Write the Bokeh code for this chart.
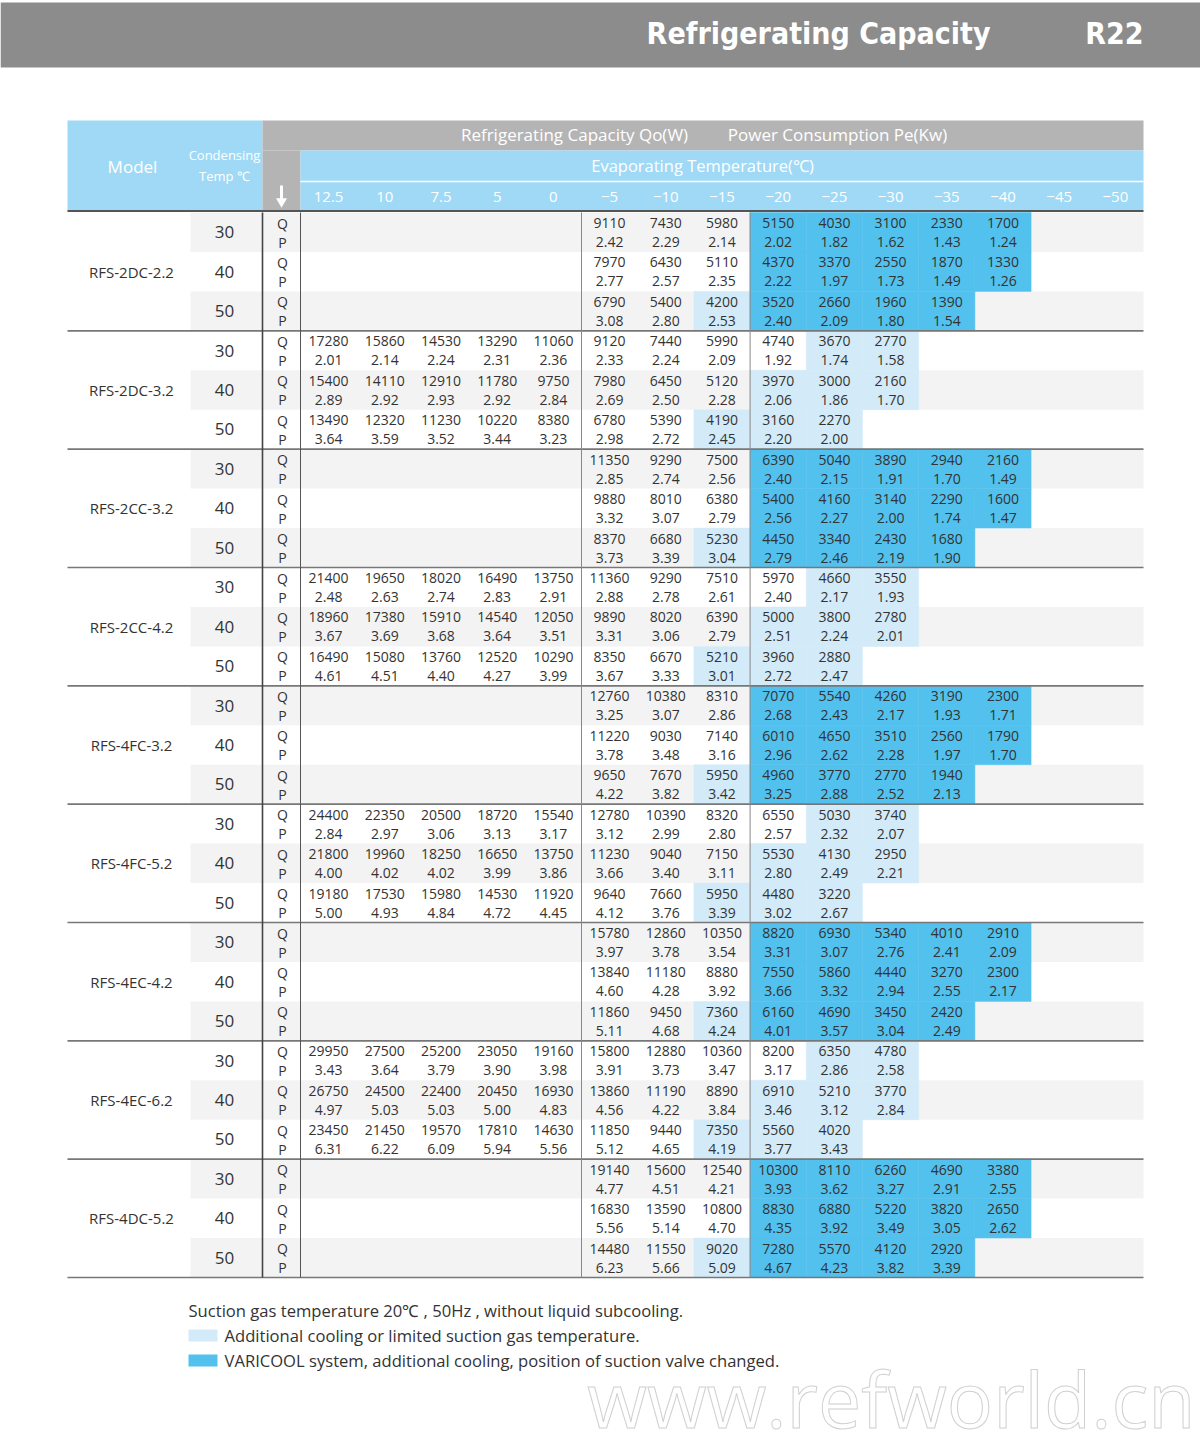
import numpy as np
from bokeh.plotting import figure
from bokeh.models import ColumnDataSource, Range1d
from bokeh.core.properties import value
from bokeh.embed import file_html
from bokeh.resources import INLINE

N = None
evap_temps = ["12.5", "10", "7.5", "5", "0", "\u22125", "\u221210", "\u221215", "\u221220",
              "\u221225", "\u221230", "\u221235", "\u221240", "\u221245", "\u221250"]
models = ["RFS-2DC-2.2", "RFS-2DC-3.2", "RFS-2CC-3.2", "RFS-2CC-4.2", "RFS-4FC-3.2",
          "RFS-4FC-5.2", "RFS-4EC-4.2", "RFS-4EC-6.2", "RFS-4DC-5.2"]
cond_temps = ["30", "40", "50"]

# Q (W) and P (kW) per model, rows = condensing 30/40/50, cols = evaporating temps
Q_2DC_22 = [[N, N, N, N, N, 9110, 7430, 5980, 5150, 4030, 3100, 2330, 1700, N, N],
            [N, N, N, N, N, 7970, 6430, 5110, 4370, 3370, 2550, 1870, 1330, N, N],
            [N, N, N, N, N, 6790, 5400, 4200, 3520, 2660, 1960, 1390, N, N, N]]
P_2DC_22 = [[N, N, N, N, N, 2.42, 2.29, 2.14, 2.02, 1.82, 1.62, 1.43, 1.24, N, N],
            [N, N, N, N, N, 2.77, 2.57, 2.35, 2.22, 1.97, 1.73, 1.49, 1.26, N, N],
            [N, N, N, N, N, 3.08, 2.80, 2.53, 2.40, 2.09, 1.80, 1.54, N, N, N]]
Q_2DC_32 = [[17280, 15860, 14530, 13290, 11060, 9120, 7440, 5990, 4740, 3670, 2770, N, N, N, N],
            [15400, 14110, 12910, 11780, 9750, 7980, 6450, 5120, 3970, 3000, 2160, N, N, N, N],
            [13490, 12320, 11230, 10220, 8380, 6780, 5390, 4190, 3160, 2270, N, N, N, N, N]]
P_2DC_32 = [[2.01, 2.14, 2.24, 2.31, 2.36, 2.33, 2.24, 2.09, 1.92, 1.74, 1.58, N, N, N, N],
            [2.89, 2.92, 2.93, 2.92, 2.84, 2.69, 2.50, 2.28, 2.06, 1.86, 1.70, N, N, N, N],
            [3.64, 3.59, 3.52, 3.44, 3.23, 2.98, 2.72, 2.45, 2.20, 2.00, N, N, N, N, N]]
Q_2CC_32 = [[N, N, N, N, N, 11350, 9290, 7500, 6390, 5040, 3890, 2940, 2160, N, N],
            [N, N, N, N, N, 9880, 8010, 6380, 5400, 4160, 3140, 2290, 1600, N, N],
            [N, N, N, N, N, 8370, 6680, 5230, 4450, 3340, 2430, 1680, N, N, N]]
P_2CC_32 = [[N, N, N, N, N, 2.85, 2.74, 2.56, 2.40, 2.15, 1.91, 1.70, 1.49, N, N],
            [N, N, N, N, N, 3.32, 3.07, 2.79, 2.56, 2.27, 2.00, 1.74, 1.47, N, N],
            [N, N, N, N, N, 3.73, 3.39, 3.04, 2.79, 2.46, 2.19, 1.90, N, N, N]]
Q_2CC_42 = [[21400, 19650, 18020, 16490, 13750, 11360, 9290, 7510, 5970, 4660, 3550, N, N, N, N],
            [18960, 17380, 15910, 14540, 12050, 9890, 8020, 6390, 5000, 3800, 2780, N, N, N, N],
            [16490, 15080, 13760, 12520, 10290, 8350, 6670, 5210, 3960, 2880, N, N, N, N, N]]
P_2CC_42 = [[2.48, 2.63, 2.74, 2.83, 2.91, 2.88, 2.78, 2.61, 2.40, 2.17, 1.93, N, N, N, N],
            [3.67, 3.69, 3.68, 3.64, 3.51, 3.31, 3.06, 2.79, 2.51, 2.24, 2.01, N, N, N, N],
            [4.61, 4.51, 4.40, 4.27, 3.99, 3.67, 3.33, 3.01, 2.72, 2.47, N, N, N, N, N]]
Q_4FC_32 = [[N, N, N, N, N, 12760, 10380, 8310, 7070, 5540, 4260, 3190, 2300, N, N],
            [N, N, N, N, N, 11220, 9030, 7140, 6010, 4650, 3510, 2560, 1790, N, N],
            [N, N, N, N, N, 9650, 7670, 5950, 4960, 3770, 2770, 1940, N, N, N]]
P_4FC_32 = [[N, N, N, N, N, 3.25, 3.07, 2.86, 2.68, 2.43, 2.17, 1.93, 1.71, N, N],
            [N, N, N, N, N, 3.78, 3.48, 3.16, 2.96, 2.62, 2.28, 1.97, 1.70, N, N],
            [N, N, N, N, N, 4.22, 3.82, 3.42, 3.25, 2.88, 2.52, 2.13, N, N, N]]
Q_4FC_52 = [[24400, 22350, 20500, 18720, 15540, 12780, 10390, 8320, 6550, 5030, 3740, N, N, N, N],
            [21800, 19960, 18250, 16650, 13750, 11230, 9040, 7150, 5530, 4130, 2950, N, N, N, N],
            [19180, 17530, 15980, 14530, 11920, 9640, 7660, 5950, 4480, 3220, N, N, N, N, N]]
P_4FC_52 = [[2.84, 2.97, 3.06, 3.13, 3.17, 3.12, 2.99, 2.80, 2.57, 2.32, 2.07, N, N, N, N],
            [4.00, 4.02, 4.02, 3.99, 3.86, 3.66, 3.40, 3.11, 2.80, 2.49, 2.21, N, N, N, N],
            [5.00, 4.93, 4.84, 4.72, 4.45, 4.12, 3.76, 3.39, 3.02, 2.67, N, N, N, N, N]]
Q_4EC_42 = [[N, N, N, N, N, 15780, 12860, 10350, 8820, 6930, 5340, 4010, 2910, N, N],
            [N, N, N, N, N, 13840, 11180, 8880, 7550, 5860, 4440, 3270, 2300, N, N],
            [N, N, N, N, N, 11860, 9450, 7360, 6160, 4690, 3450, 2420, N, N, N]]
P_4EC_42 = [[N, N, N, N, N, 3.97, 3.78, 3.54, 3.31, 3.07, 2.76, 2.41, 2.09, N, N],
            [N, N, N, N, N, 4.60, 4.28, 3.92, 3.66, 3.32, 2.94, 2.55, 2.17, N, N],
            [N, N, N, N, N, 5.11, 4.68, 4.24, 4.01, 3.57, 3.04, 2.49, N, N, N]]
Q_4EC_62 = [[29950, 27500, 25200, 23050, 19160, 15800, 12880, 10360, 8200, 6350, 4780, N, N, N, N],
            [26750, 24500, 22400, 20450, 16930, 13860, 11190, 8890, 6910, 5210, 3770, N, N, N, N],
            [23450, 21450, 19570, 17810, 14630, 11850, 9440, 7350, 5560, 4020, N, N, N, N, N]]
P_4EC_62 = [[3.43, 3.64, 3.79, 3.90, 3.98, 3.91, 3.73, 3.47, 3.17, 2.86, 2.58, N, N, N, N],
            [4.97, 5.03, 5.03, 5.00, 4.83, 4.56, 4.22, 3.84, 3.46, 3.12, 2.84, N, N, N, N],
            [6.31, 6.22, 6.09, 5.94, 5.56, 5.12, 4.65, 4.19, 3.77, 3.43, N, N, N, N, N]]
Q_4DC_52 = [[N, N, N, N, N, 19140, 15600, 12540, 10300, 8110, 6260, 4690, 3380, N, N],
            [N, N, N, N, N, 16830, 13590, 10800, 8830, 6880, 5220, 3820, 2650, N, N],
            [N, N, N, N, N, 14480, 11550, 9020, 7280, 5570, 4120, 2920, N, N, N]]
P_4DC_52 = [[N, N, N, N, N, 4.77, 4.51, 4.21, 3.93, 3.62, 3.27, 2.91, 2.55, N, N],
            [N, N, N, N, N, 5.56, 5.14, 4.70, 4.35, 3.92, 3.49, 3.05, 2.62, N, N],
            [N, N, N, N, N, 6.23, 5.66, 5.09, 4.67, 4.23, 3.82, 3.39, N, N, N]]

q_tables = [Q_2DC_22, Q_2DC_32, Q_2CC_32, Q_2CC_42, Q_4FC_32, Q_4FC_52, Q_4EC_42, Q_4EC_62, Q_4DC_52]
p_tables = [P_2DC_22, P_2DC_32, P_2CC_32, P_2CC_42, P_4FC_32, P_4FC_52, P_4EC_42, P_4EC_62, P_4DC_52]

# operating notes: 0 none, 1 additional cooling / limited suction gas temp, 2 VARICOOL
note_varicool = [[0, 0, 0, 0, 0, 0, 0, 0, 2, 2, 2, 2, 2, 0, 0],
                 [0, 0, 0, 0, 0, 0, 0, 0, 2, 2, 2, 2, 2, 0, 0],
                 [0, 0, 0, 0, 0, 0, 0, 1, 2, 2, 2, 2, 0, 0, 0]]
note_limited = [[0, 0, 0, 0, 0, 0, 0, 0, 0, 1, 1, 0, 0, 0, 0],
                [0, 0, 0, 0, 0, 0, 0, 0, 1, 1, 1, 0, 0, 0, 0],
                [0, 0, 0, 0, 0, 0, 0, 1, 1, 1, 0, 0, 0, 0, 0]]
model_notes = [note_varicool, note_limited, note_varicool, note_limited, note_varicool,
               note_limited, note_varicool, note_limited, note_varicool]

legend_lines = ["Suction gas temperature 20\u2103 , 50Hz , without liquid subcooling.",
                "Additional cooling or limited suction gas temperature.",
                "VARICOOL system, additional cooling, position of suction valve changed."]

# ---------------- layout ----------------
FONT = value("Open Sans")
TITLE_FONT = value("Liberation Sans Narrow, DejaVu Sans Condensed")
X_MODEL0, X_COND0, X_QP0, X_DATA0, X_END = 67, 190, 262, 300, 1143
Y_HDR0, Y_HDR1, Y_SPLIT, Y_HDR2 = 120, 150, 181, 210
Y_BODY0, Y_BODY1 = 212, 1277
NC = len(evap_temps)
CW = (X_END - X_DATA0) / NC
NPAIR = len(models) * len(cond_temps)
PH = (Y_BODY1 - Y_BODY0) / NPAIR

C_HDRBAR = "#8c8c8c"
C_GRAYHDR = "#b4b4b4"
C_BLUEHDR = "#a0d9f5"
C_STRIPE = "#f3f3f3"
C_LIGHT = "#d3ebf8"
C_DARK = "#52c1ee"
C_TXT = "#333333"

p = figure(width=1200, height=1436, x_range=Range1d(0, 1200), y_range=Range1d(1436, 0),
           output_backend="svg", toolbar_location=None, min_border=0)
p.axis.visible = False
p.grid.visible = False
p.outline_line_color = None
p.background_fill_color = "white"
p.border_fill_color = "white"

# top title bar
p.quad(left=[0], right=[1200], top=[2], bottom=[67], fill_color=C_HDRBAR, line_color=None)
p.text(x=[990], y=[33], text=["Refrigerating Capacity"], text_align="right", text_baseline="middle",
       text_font=TITLE_FONT, text_font_style="bold", text_font_size="30px", text_color="white")
p.text(x=[1143], y=[33], text=["R22"], text_align="right", text_baseline="middle",
       text_font=TITLE_FONT, text_font_style="bold", text_font_size="30px", text_color="white")

# table header
p.quad(left=[X_MODEL0], right=[X_QP0], top=[Y_HDR0], bottom=[Y_HDR2], fill_color=C_BLUEHDR, line_color=None)
p.quad(left=[X_QP0], right=[X_END], top=[Y_HDR0], bottom=[Y_HDR1], fill_color=C_GRAYHDR, line_color=None)
p.quad(left=[X_QP0], right=[X_DATA0], top=[Y_HDR1], bottom=[Y_HDR2], fill_color=C_GRAYHDR, line_color=None)
p.quad(left=[X_DATA0], right=[X_END], top=[Y_HDR1], bottom=[Y_HDR2], fill_color=C_BLUEHDR, line_color=None)
p.segment(x0=[X_DATA0], x1=[X_END], y0=[Y_SPLIT], y1=[Y_SPLIT], line_color="white", line_width=1.5)

p.text(x=[132], y=[166], text=["Model"], text_align="center", text_baseline="middle",
       text_font=FONT, text_font_size="17px", text_color="white")
p.text(x=[224, 224], y=[154, 175], text=["Condensing", "Temp \u2103"], text_align="center",
       text_baseline="middle", text_font=FONT, text_font_size="13px", text_color="white")
p.text(x=[574, 837], y=[134, 134], text=["Refrigerating Capacity Qo(W)", "Power Consumption Pe(Kw)"],
       text_align="center", text_baseline="middle", text_font=FONT, text_font_size="17px",
       text_color="white")
p.text(x=[702], y=[165], text=["Evaporating Temperature(\u2103)"], text_align="center",
       text_baseline="middle", text_font=FONT, text_font_size="16.5px", text_color="white")
tick_x = [X_DATA0 + (i + 0.5) * CW for i in range(NC)]
p.text(x=tick_x, y=[196] * NC, text=evap_temps, text_align="center", text_baseline="middle",
       text_font=FONT, text_font_size="15px", text_color="white")
# arrow
p.segment(x0=[281], x1=[281], y0=[185], y1=[199], line_color="white", line_width=3)
p.scatter(x=[281], y=[201], marker="inverted_triangle", size=11, fill_color="white", line_color=None)

# body stripes & cell shading
sl, sr, st, sb = [], [], [], []
cl, cr, ct, cb, cc = [], [], [], [], []
for m in range(len(models)):
    for k in range(len(cond_temps)):
        g = m * len(cond_temps) + k
        top = Y_BODY0 + g * PH
        if g % 2 == 0:
            sl.append(X_COND0); sr.append(X_END); st.append(top); sb.append(top + PH)
        for c in range(NC):
            code = model_notes[m][k][c]
            if code:
                cl.append(X_DATA0 + c * CW); cr.append(X_DATA0 + (c + 1) * CW)
                ct.append(top); cb.append(top + PH)
                cc.append(C_LIGHT if code == 1 else C_DARK)
p.quad(left=sl, right=sr, top=st, bottom=sb, fill_color=C_STRIPE, line_color=None)
p.quad(source=ColumnDataSource(dict(l=cl, r=cr, t=ct, b=cb, c=cc)), left="l", right="r",
       top="t", bottom="b", fill_color="c", line_color="c", line_width=0.5)

# body texts
nx, ny, nt = [], [], []
qx, qy, qt = [], [], []
for m in range(len(models)):
    for k in range(len(cond_temps)):
        g = m * len(cond_temps) + k
        top = Y_BODY0 + g * PH
        yq, yp = top + 10.5, top + 29.5
        qx += [282, 282]; qy += [yq, yp]; qt += ["Q", "P"]
        for c in range(NC):
            xv = X_DATA0 + (c + 0.5) * CW
            qv = q_tables[m][k][c]
            pv = p_tables[m][k][c]
            if qv is not None:
                nx.append(xv); ny.append(yq); nt.append(str(qv))
            if pv is not None:
                nx.append(xv); ny.append(yp); nt.append(f"{pv:.2f}")
p.text(x=nx, y=ny, text=nt, text_align="center", text_baseline="middle", text_font=FONT,
       text_font_size="14px", text_color=C_TXT)
p.text(x=qx, y=qy, text=qt, text_align="center", text_baseline="middle", text_font=FONT,
       text_font_size="14px", text_color=C_TXT)

cond_x, cond_y, cond_t = [], [], []
for m in range(len(models)):
    for k in range(len(cond_temps)):
        g = m * len(cond_temps) + k
        cond_x.append(224); cond_y.append(Y_BODY0 + (g + 0.5) * PH); cond_t.append(cond_temps[k])
p.text(x=cond_x, y=cond_y, text=cond_t, text_align="center", text_baseline="middle", text_font=FONT,
       text_font_size="17px", text_color=C_TXT)
block_h = PH * len(cond_temps)
p.text(x=[131] * len(models), y=[Y_BODY0 + (m + 0.5) * block_h for m in range(len(models))],
       text=models, text_align="center", text_baseline="middle", text_font=FONT,
       text_font_size="15px", text_color=C_TXT)

# lines
p.segment(x0=[X_MODEL0], x1=[X_END], y0=[Y_HDR2 + 0.5], y1=[Y_HDR2 + 0.5], line_color="#555555", line_width=2)
hy = [Y_BODY0 + (m + 1) * block_h for m in range(len(models))]
p.segment(x0=[X_MODEL0] * len(hy), x1=[X_END] * len(hy), y0=hy, y1=hy, line_color="#777777", line_width=1.6)
p.segment(x0=[X_QP0], x1=[X_QP0], y0=[Y_BODY0], y1=[Y_BODY1], line_color="#444444", line_width=1.6)
p.segment(x0=[X_DATA0], x1=[X_DATA0], y0=[Y_BODY0], y1=[Y_BODY1], line_color="#555555", line_width=1)
vx = [X_DATA0 + 5 * CW, X_DATA0 + 8 * CW]
p.segment(x0=vx, x1=vx, y0=[Y_BODY0] * 2, y1=[Y_BODY1] * 2, line_color="#888888", line_width=1)

# legend / notes
p.quad(left=[188, 188], right=[217, 217], top=[1329, 1354], bottom=[1341, 1366],
       fill_color=[C_LIGHT, C_DARK], line_color=None)
p.text(x=[188, 224, 224], y=[1310, 1335, 1360], text=legend_lines, text_align="left",
       text_baseline="middle", text_font=FONT, text_font_size="16.6px", text_color=C_TXT)

# watermark
p.text(x=[1195], y=[1398], text=["www.refworld.cn"], text_align="right", text_baseline="middle",
       text_font=value("Open Sans"), text_font_size="77px", text_color="white",
       text_outline_color="#d0d0d0")

open("out.html", "w").write(file_html(p, INLINE))
